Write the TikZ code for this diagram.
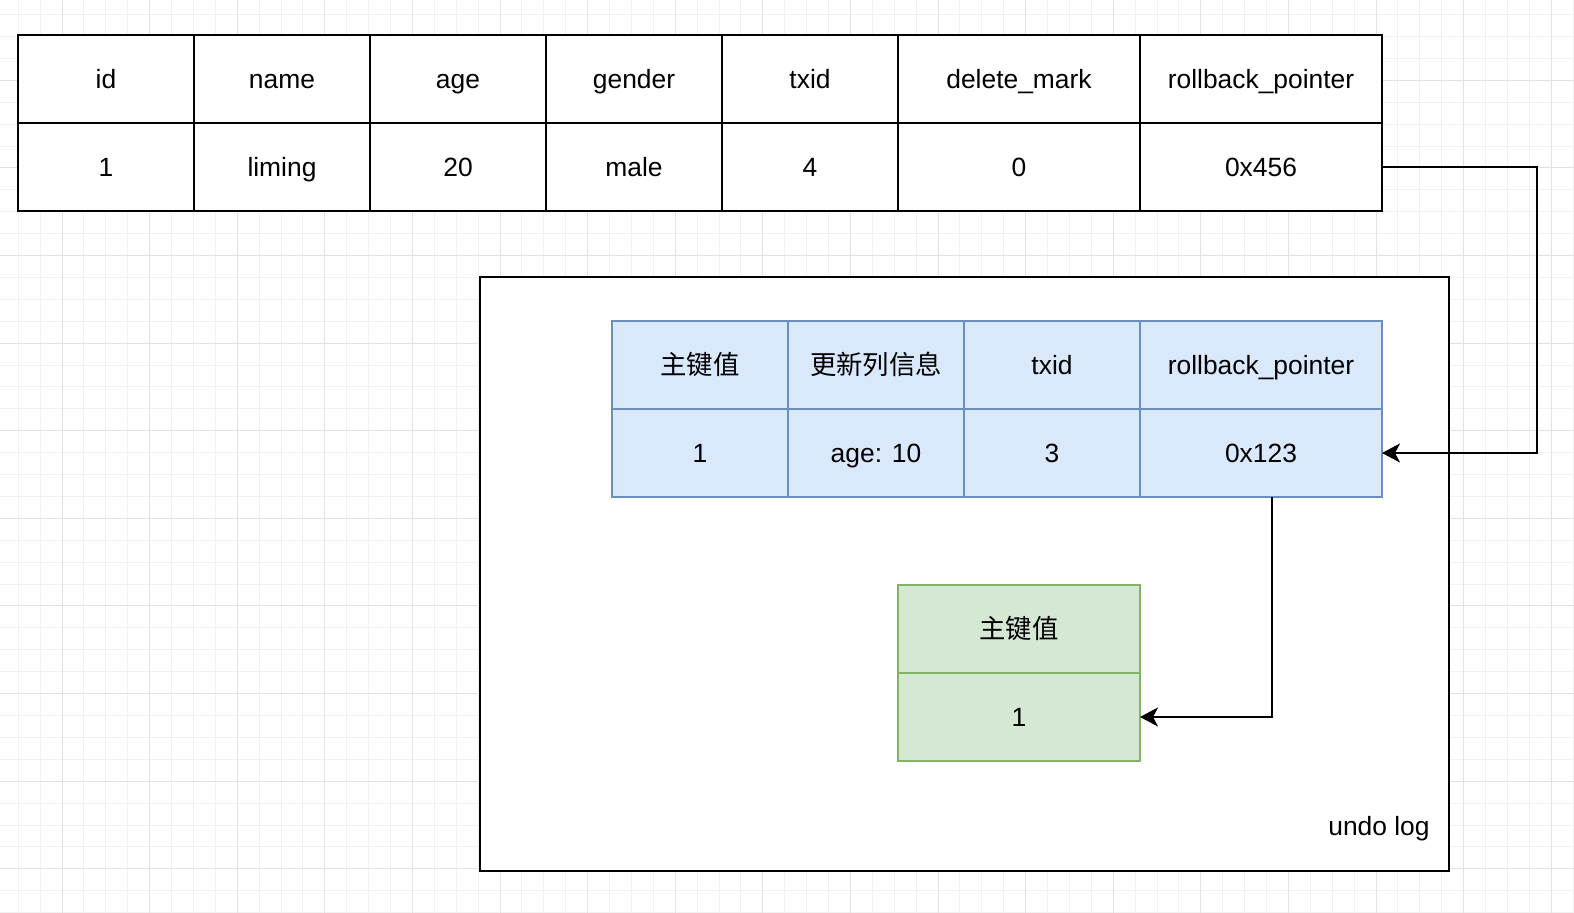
\documentclass[tikz,border=0pt]{standalone}
\usepackage{fontspec}
\setmainfont{Liberation Sans}
\newfontfamily\cjk{Noto Sans CJK SC}
\usetikzlibrary{positioning, arrows.meta}

\definecolor{blueFill}{HTML}{DAE8FC}
\definecolor{blueLine}{HTML}{6C8EBF}
\definecolor{greenFill}{HTML}{D5E8D4}
\definecolor{greenLine}{HTML}{82B366}
\definecolor{gridMinor}{HTML}{F1F1F1}
\definecolor{gridMajor}{HTML}{E2E2E2}

\begin{document}
\begin{tikzpicture}[x=0.5pt, y=-0.5pt, >={Stealth[length=9pt, width=9.5pt, inset=2.5pt]}, every node/.style={font=\fontsize{13.2}{16}\selectfont}]
  \tikzset{cell/.style={draw, line width=1.1pt, fill=white, outer sep=0pt, inner sep=0pt, minimum width=88pt, minimum height=44pt, text height=9.5pt, text depth=0pt},
    wide/.style={minimum width=121pt},
    undocell/.style={cell, draw=blueLine, fill=blueFill},
    keycell/.style={cell, draw=greenLine, fill=greenFill},
    link/.style={->, line width=1.1pt}}

  \useasboundingbox (0,0) rectangle (1574,913);
  \fill[white] (0,0) rectangle (1574,913);

  % background grid
  \foreach \k in {0,...,71} \draw[gridMinor, line width=0.5pt] ({18.2+21.9*\k},0) -- ({18.2+21.9*\k},913);
  \foreach \k in {0,...,41} \draw[gridMinor, line width=0.5pt] (0,{14.7+21.9*\k}) -- (1574,{14.7+21.9*\k});
  \foreach \k in {2,6,...,70} \draw[gridMajor, line width=0.5pt] ({18.2+21.9*\k},0) -- ({18.2+21.9*\k},913);
  \foreach \k in {3,7,...,39} \draw[gridMajor, line width=0.5pt] (0,{14.7+21.9*\k}) -- (1574,{14.7+21.9*\k});

  % row table
  \node[cell] (hId) at (106,79) {id};
  \node[cell, right=0pt of hId] (hName) {name};
  \node[cell, right=0pt of hName] (hAge) {age};
  \node[cell, right=0pt of hAge] (hGender) {gender};
  \node[cell, right=0pt of hGender] (hTxid) {txid};
  \node[cell, wide, right=0pt of hTxid] (hDelete) {delete\_mark};
  \node[cell, wide, right=0pt of hDelete] (hRollback) {rollback\_pointer};
  \node[cell, below=0pt of hId] (vId) {1};
  \node[cell, below=0pt of hName] (vName) {liming};
  \node[cell, below=0pt of hAge] (vAge) {20};
  \node[cell, below=0pt of hGender] (vGender) {male};
  \node[cell, below=0pt of hTxid] (vTxid) {4};
  \node[cell, wide, below=0pt of hDelete] (vDelete) {0};
  \node[cell, wide, below=0pt of hRollback] (vRollback) {0x456};

  % undo log
  \node[draw, line width=1.2pt, fill=white, inner sep=0pt, outer sep=0pt, minimum width=484.5pt, minimum height=297pt] (undo) at (964.5,574) {};
  \node[anchor=east, inner sep=0pt, text height=9.5pt, text depth=0pt] (undoLabel) at (1430,826) {undo log};

  \node[undocell] (uKey) at (700,365) {\cjk 主键值};
  \node[undocell, right=0pt of uKey] (uCols) {\cjk 更新列信息};
  \node[undocell, right=0pt of uCols] (uTxid) {txid};
  \node[undocell, wide, right=0pt of uTxid] (uRollback) {rollback\_pointer};
  \node[undocell, below=0pt of uKey] (uKeyVal) {1};
  \node[undocell, below=0pt of uCols] (uColsVal) {age: 10};
  \node[undocell, below=0pt of uTxid] (uTxidVal) {3};
  \node[undocell, wide, below=0pt of uRollback] (uRollbackVal) {0x123};

  \node[keycell, wide] (kKey) at (1019,629) {\cjk 主键值};
  \node[keycell, wide, below=0pt of kKey] (kVal) {1};

  % pointers
  \draw[link] (vRollback.east) -- ++(155,0) |- (uRollbackVal.east);
  \draw[link] ([xshift=5.5pt]uRollbackVal.south) |- (kVal.east);
\end{tikzpicture}
\end{document}
